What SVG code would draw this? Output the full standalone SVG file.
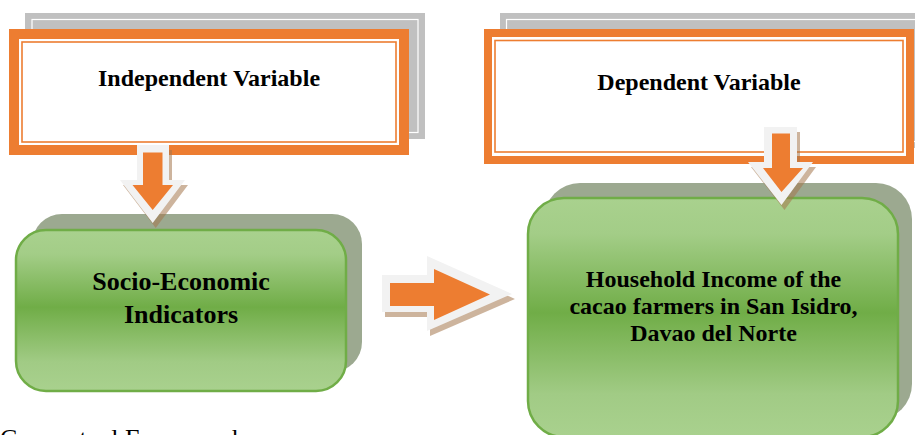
<svg xmlns="http://www.w3.org/2000/svg" width="915" height="435" viewBox="0 0 915 435">
<defs>
<linearGradient id="g" x1="0" y1="0" x2="0" y2="1">
<stop offset="0" stop-color="#a9d18e"/>
<stop offset="0.15" stop-color="#a3cd87"/>
<stop offset="0.48" stop-color="#70ad47"/>
<stop offset="0.82" stop-color="#a1cb85"/>
<stop offset="1" stop-color="#a9d18e"/>
</linearGradient>
<style>
.gray{fill:#c0c0c0}
.grayline{fill:none;stroke:#ffffff;stroke-width:1.2}
.or{fill:#ed7d31}
.wh{fill:#ffffff}
.thin{fill:none;stroke:#ed7d31;stroke-width:1.6}
.shadow{fill:#9ca990}
.green{fill:url(#g);stroke:#70ad47;stroke-width:2.5}
.t{font-family:"Liberation Serif","Times New Roman",serif;font-weight:bold;fill:#000;text-anchor:middle}
.ash{fill:#a4764c;opacity:0.55}
.aw{fill:#f2f2f2}
.ao{fill:#ed7d31}
</style>
</defs>

<g id="independent">
<rect class="gray" x="25" y="13" width="400" height="126"/>
<rect class="grayline" x="32" y="19.5" width="386" height="113"/>
<rect class="or" x="9" y="29" width="400" height="126"/>
<rect class="wh" x="19" y="39" width="380" height="106"/>
<rect class="thin" x="22" y="42" width="374" height="100"/>
<text class="t" x="209" y="86" font-size="24">Independent Variable</text>
</g>

<g id="dependent">
<rect class="gray" x="500" y="13" width="430" height="135"/>
<rect class="grayline" x="506.5" y="19.5" width="420" height="122"/>
<rect class="or" x="484" y="29" width="430" height="135"/>
<rect class="wh" x="492" y="37" width="414" height="119"/>
<rect class="thin" x="495" y="40.5" width="408" height="111.5"/>
<text class="t" x="699" y="90" font-size="24">Dependent Variable</text>
</g>

<g id="socio">
<rect class="shadow" x="32" y="214" width="330" height="158" rx="30"/>
<rect class="green" x="16" y="230" width="330" height="161" rx="30"/>
<text class="t" x="181" y="290" font-size="26">Socio-Economic</text>
<text class="t" x="181" y="323" font-size="26">Indicators</text>
</g>

<g id="income">
<rect class="shadow" x="544" y="183" width="368" height="237" rx="36"/>
<rect class="green" x="528" y="198" width="370" height="239" rx="36"/>
<text class="t" x="713.5" y="287" font-size="24">Household Income of the</text>
<text class="t" x="713.5" y="314" font-size="24">cacao farmers in San Isidro,</text>
<text class="t" x="713.5" y="341" font-size="24">Davao del Norte</text>
</g>

<g id="connectors">
<g id="arrow-left-down">
<polygon class="ash" transform="translate(3,5)" points="137,145 169,145 169,180 185,180 152.7,223 120,180 137,180"/>
<polygon class="aw" points="137,145 169,145 169,180 185,180 152.7,223 120,180 137,180"/>
<polygon class="ao" points="143,152.5 162.5,152.5 162.5,185 173,185 152.7,210 132.5,185 143,185"/>
</g>
<g id="arrow-right-down">
<polygon class="ash" transform="translate(3,5)" points="764,127 797,127 797,162 813,162 781.5,205 748,162 764,162"/>
<polygon class="aw" points="764,127 797,127 797,162 813,162 781.5,205 748,162 764,162"/>
<polygon class="ao" points="772,133.5 790,133.5 790,168 803,168 781.5,192 763,168 772,168"/>
</g>
<g id="arrow-right">
<polygon class="ash" transform="translate(3,5)" points="382,275 427,275 427,256 512,294 427,331 427,312 382,312"/>
<polygon class="aw" points="382,275 427,275 427,256 512,294 427,331 427,312 382,312"/>
<polygon class="ao" points="390,283 434,283 434,269 490,294.5 434,320 434,306 390,306"/>
</g>
</g>

<text x="0" y="447" font-family="'Liberation Serif','Times New Roman',serif" font-size="26" fill="#000">Conceptual Framework</text>
</svg>
